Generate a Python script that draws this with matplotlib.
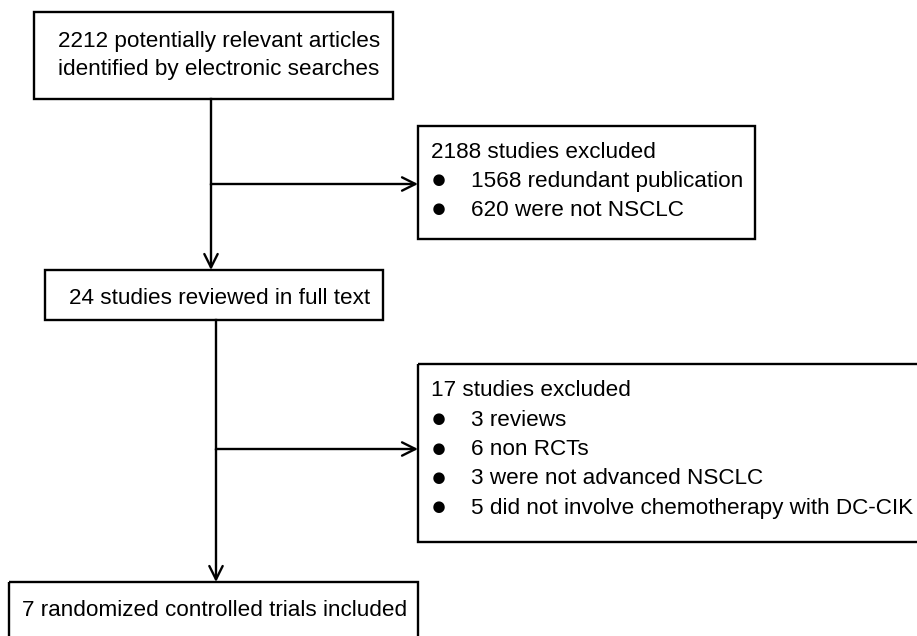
import matplotlib.pyplot as plt
from matplotlib.patches import Rectangle

plt.rcParams['font.family'] = ['Liberation Sans', 'DejaVu Sans']

# flow chart content
top_lines = ["2212 potentially relevant articles", "identified by electronic searches"]
excl1_title = "2188 studies excluded"
excl1_items = ["1568 redundant publication", "620 were not NSCLC"]
full_text = "24 studies reviewed in full text"
excl2_title = "17 studies excluded"
excl2_items = ["3 reviews", "6 non RCTs", "3 were not advanced NSCLC",
               "5 did not involve chemotherapy with DC-CIK"]
final_text = "7 randomized controlled trials included"

W, H = 917, 636
fig = plt.figure(figsize=(W / 100, H / 100), dpi=100)
ax = fig.add_axes([0, 0, 1, 1])
ax.set_xlim(0, W)
ax.set_ylim(H, 0)
ax.axis('off')

lw = 1.7
fs = 16.2


def box(x0, y0, x1, y1):
    ax.add_patch(Rectangle((x0, y0), x1 - x0, y1 - y0, fill=False,
                           edgecolor='black', linewidth=lw, clip_on=False))


def arrow(x0, y0, x1, y1):
    ax.annotate('', xy=(x1, y1), xytext=(x0, y0),
                arrowprops=dict(arrowstyle='->', color='black', lw=lw,
                                mutation_scale=24, shrinkA=0, shrinkB=0))


def bullet_list(x, y_title, title, items, step):
    ax.text(x, y_title, title, fontsize=fs, va='center', ha='left')
    for i, it in enumerate(items):
        y = y_title + step * (i + 1)
        ax.text(x + 8, y, '\u25cf', fontsize=fs + 3, va='center', ha='center')
        ax.text(x + 40, y, it, fontsize=fs, va='center', ha='left')


# boxes
box(34, 12, 393, 99)
for i, t in enumerate(top_lines):
    ax.text(58, 41 + 28 * i, t, fontsize=fs, va='center', ha='left')

box(418, 126, 755, 239)
bullet_list(431, 153, excl1_title, excl1_items, 28.5)

box(45, 270, 383, 320)
ax.text(69, 298, full_text, fontsize=fs, va='center', ha='left')

box(418, 364, 930, 542)
bullet_list(431, 391, excl2_title, excl2_items, 29.3)

box(9, 582, 418, 650)
ax.text(22, 610, final_text, fontsize=fs, va='center', ha='left')

# connectors
ax.plot([211, 211], [99, 184], color='black', lw=lw)
arrow(211, 184, 418, 184)
arrow(211, 184, 211, 270)
ax.plot([216, 216], [320, 449], color='black', lw=lw)
arrow(216, 449, 418, 449)
arrow(216, 449, 216, 582)

fig.savefig('out.png', dpi=100, facecolor='white')
